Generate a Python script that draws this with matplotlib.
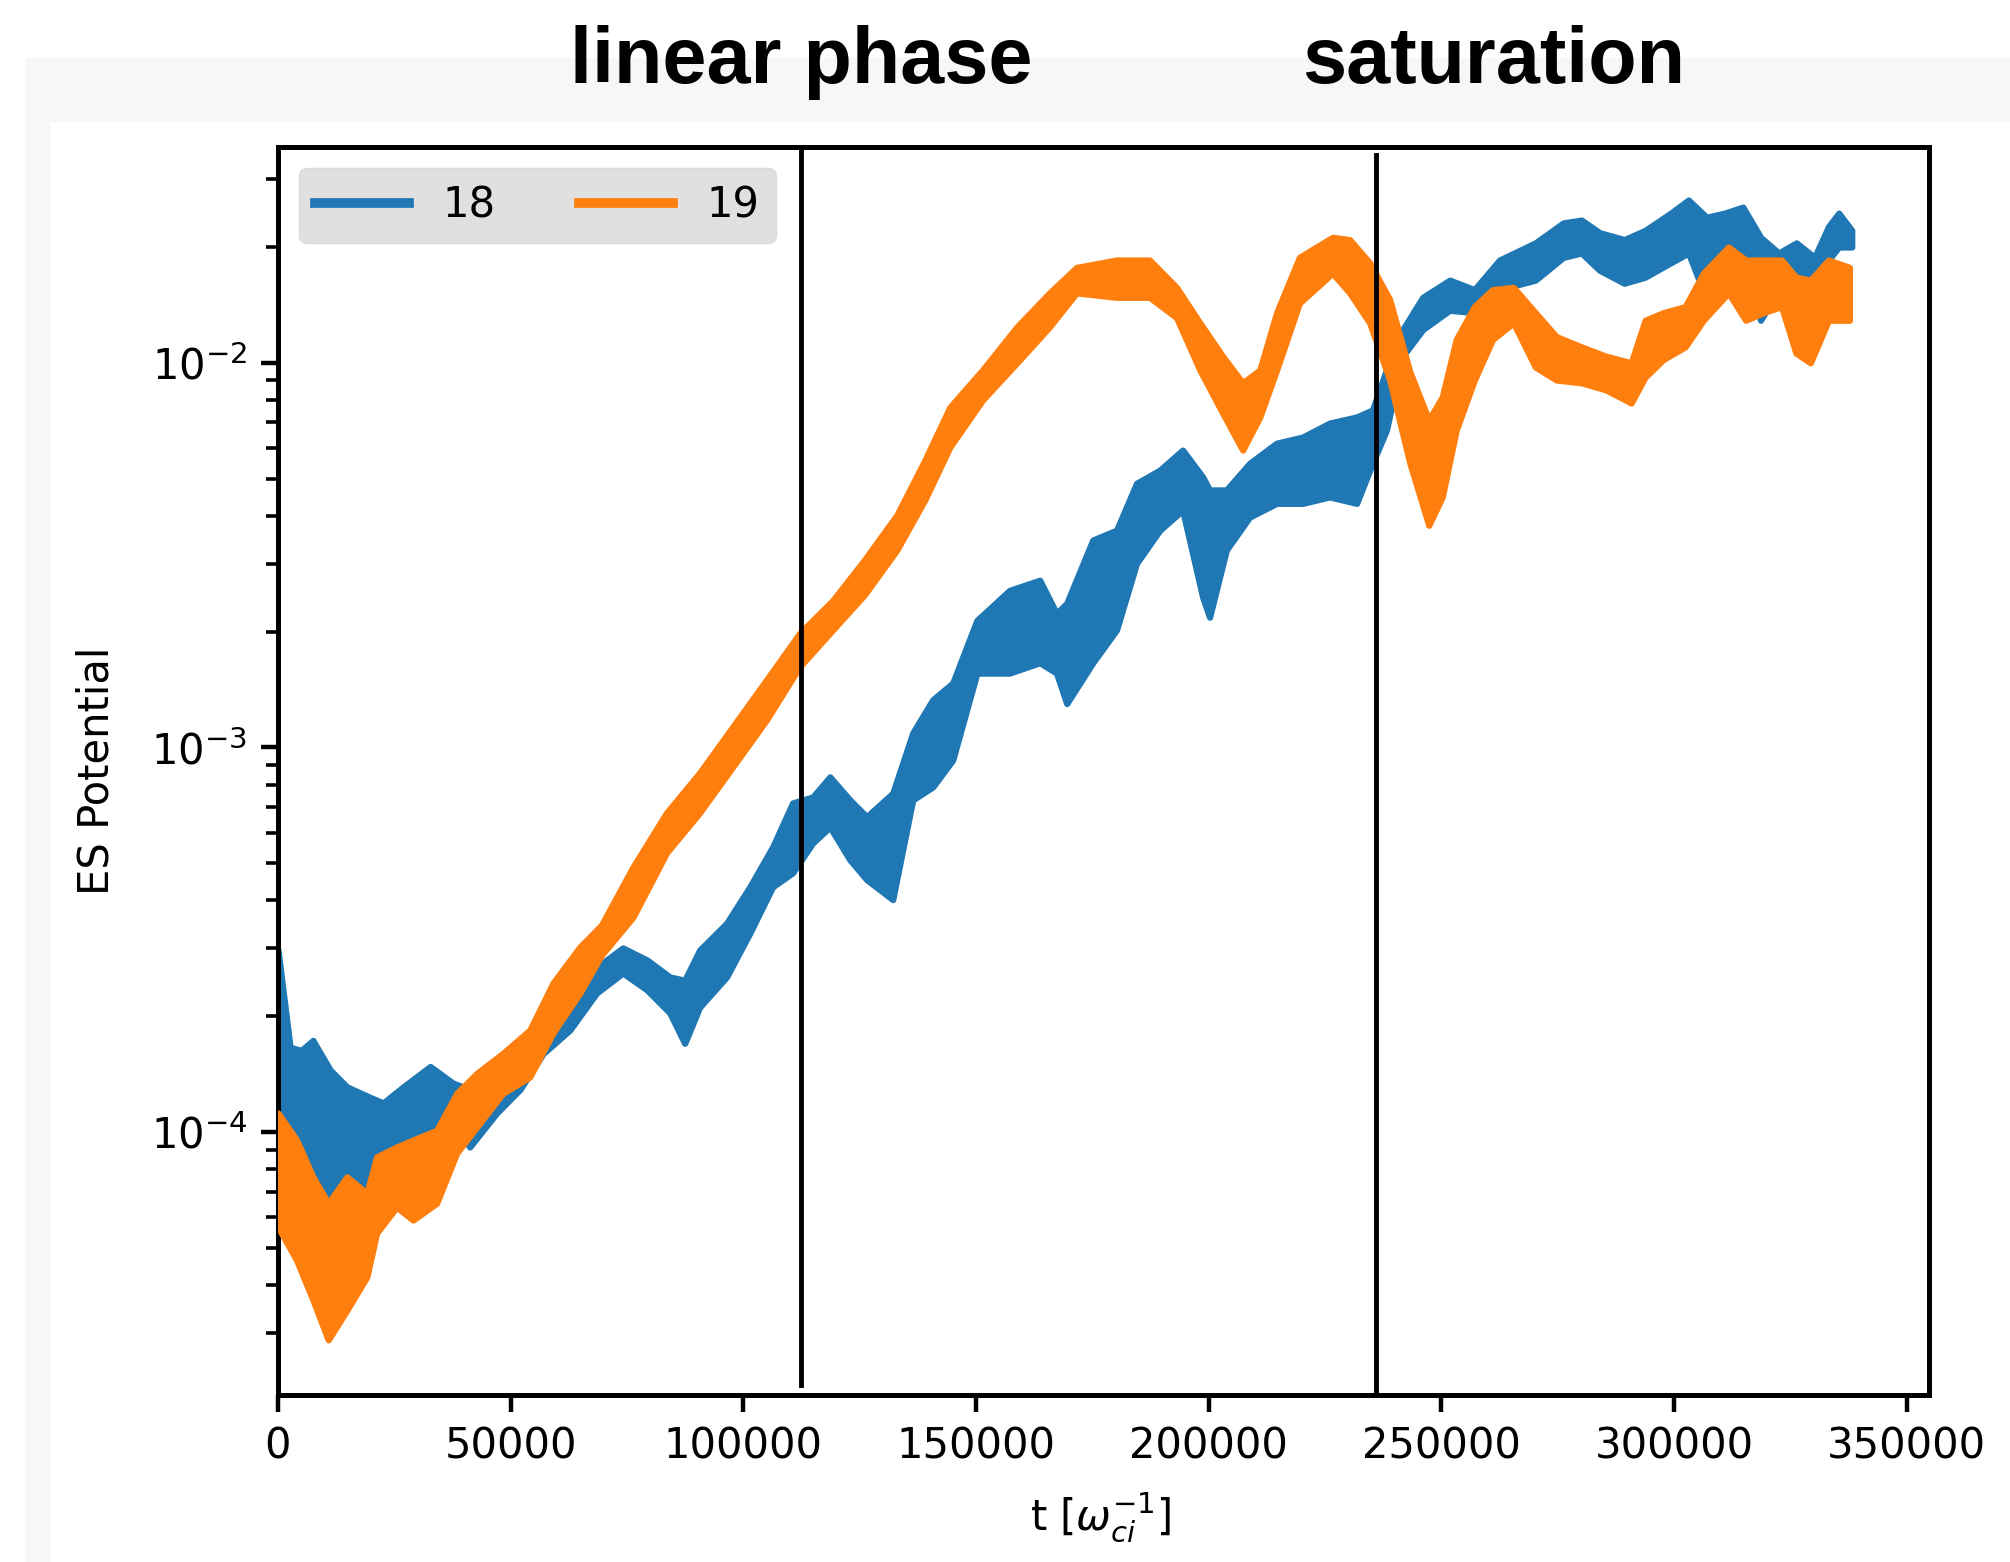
import matplotlib
matplotlib.use("Agg")
import matplotlib.pyplot as plt
from matplotlib.lines import Line2D
from matplotlib.patches import Rectangle

# ES potential envelopes (upper / lower edge of the noisy band)
t18 = [0, 2600, 5000, 7500, 11200, 14800, 19800, 22600, 26900, 32700,
       37600, 41200, 47000, 52000, 57000, 62700, 68500, 74100, 79300, 84200,
       87400, 90600, 96400, 101400, 106300, 110600, 114900, 118600, 122900, 126500,
       132100, 136400, 140700, 145000, 150200, 157200, 163700, 167300, 169500, 175100,
       180200, 184500, 189500, 194400, 198700, 200200, 203800, 208800, 214600, 220200,
       226000, 231800, 235200, 238200, 241700, 246000, 251800, 257100, 262500, 270200,
       276200, 280100, 284000, 289300, 293800, 299300, 303100, 307000, 310900, 314800,
       318600, 322500, 326300, 330200, 333200, 335400, 338200]
hi18 = [2.97e-4, 1.66e-4, 1.63e-4, 1.73e-4, 1.45e-4, 1.31e-4, 1.23e-4, 1.19e-4, 1.31e-4, 1.48e-4,
        1.34e-4, 1.29e-4, 1.54e-4, 1.70e-4, 1.84e-4, 2.20e-4, 2.68e-4, 3.01e-4, 2.80e-4, 2.53e-4,
        2.48e-4, 2.97e-4, 3.49e-4, 4.34e-4, 5.51e-4, 7.17e-4, 7.43e-4, 8.38e-4, 7.30e-4, 6.60e-4,
        7.60e-4, 1.09e-3, 1.33e-3, 1.47e-3, 2.14e-3, 2.56e-3, 2.72e-3, 2.23e-3, 2.37e-3, 3.46e-3,
        3.67e-3, 4.86e-3, 5.26e-3, 5.93e-3, 5.05e-3, 4.67e-3, 4.67e-3, 5.48e-3, 6.18e-3, 6.41e-3,
        6.97e-3, 7.23e-3, 7.54e-3, 9.58e-3, 1.22e-2, 1.48e-2, 1.64e-2, 1.55e-2, 1.85e-2, 2.05e-2,
        2.31e-2, 2.35e-2, 2.18e-2, 2.09e-2, 2.21e-2, 2.45e-2, 2.65e-2, 2.39e-2, 2.45e-2, 2.54e-2,
        2.12e-2, 1.93e-2, 2.05e-2, 1.88e-2, 2.26e-2, 2.45e-2, 2.21e-2]
lo18 = [9.93e-5, 8.11e-5, 7.50e-5, 7.06e-5, 6.65e-5, 7.37e-5, 6.77e-5, 8.61e-5, 9.53e-5, 1.03e-4,
        1.07e-4, 9.14e-5, 1.12e-4, 1.29e-4, 1.60e-4, 1.84e-4, 2.30e-4, 2.59e-4, 2.34e-4, 2.04e-4,
        1.70e-4, 2.11e-4, 2.53e-4, 3.29e-4, 4.34e-4, 4.72e-4, 5.64e-4, 6.21e-4, 5.10e-4, 4.53e-4,
        4.02e-4, 7.30e-4, 7.89e-4, 9.27e-4, 1.56e-3, 1.56e-3, 1.66e-3, 1.56e-3, 1.30e-3, 1.66e-3,
        2.02e-3, 3.01e-3, 3.67e-3, 4.14e-3, 2.46e-3, 2.18e-3, 3.26e-3, 3.97e-3, 4.31e-3, 4.31e-3,
        4.48e-3, 4.31e-3, 5.48e-3, 6.68e-3, 1.04e-2, 1.22e-2, 1.37e-2, 1.35e-2, 1.55e-2, 1.64e-2,
        1.88e-2, 1.93e-2, 1.74e-2, 1.61e-2, 1.67e-2, 1.82e-2, 1.93e-2, 1.46e-2, 1.55e-2, 1.85e-2,
        1.29e-2, 1.55e-2, 1.64e-2, 1.55e-2, 1.85e-2, 2.00e-2, 2.00e-2]

t19 = [0, 4000, 7500, 10800, 14800, 19100, 21200, 25500, 29000, 34100,
       38400, 42700, 48300, 54100, 59100, 64900, 69500, 76300, 83500, 90600,
       97700, 105000, 112100, 119200, 126000, 133000, 139000, 144400, 151400, 158800,
       165800, 171600, 180200, 187300, 193100, 198100, 203000, 207300, 211000, 214600,
       219500, 226600, 230300, 234600, 238900, 243200, 247300, 250200, 253200, 257100,
       261000, 265500, 270200, 274700, 280100, 285400, 290800, 293800, 297700, 302400,
       306300, 311700, 315400, 319200, 323100, 326200, 329300, 333200, 337700]
hi19 = [1.12e-4, 9.53e-5, 7.64e-5, 6.53e-5, 7.64e-5, 6.93e-5, 8.61e-5, 9.14e-5, 9.53e-5, 1.01e-4,
        1.26e-4, 1.42e-4, 1.60e-4, 1.84e-4, 2.44e-4, 3.03e-4, 3.45e-4, 4.89e-4, 6.76e-4, 8.59e-4,
        1.13e-3, 1.50e-3, 1.98e-3, 2.41e-3, 3.07e-3, 4.02e-3, 5.58e-3, 7.67e-3, 9.58e-3, 1.24e-2,
        1.52e-2, 1.77e-2, 1.85e-2, 1.85e-2, 1.57e-2, 1.27e-2, 1.04e-2, 8.87e-3, 9.58e-3, 1.35e-2,
        1.88e-2, 2.12e-2, 2.09e-2, 1.82e-2, 1.46e-2, 9.50e-3, 7.10e-3, 8.15e-3, 1.15e-2, 1.40e-2,
        1.55e-2, 1.57e-2, 1.35e-2, 1.17e-2, 1.10e-2, 1.04e-2, 1.00e-2, 1.29e-2, 1.35e-2, 1.40e-2,
        1.71e-2, 2.00e-2, 1.85e-2, 1.85e-2, 1.85e-2, 1.67e-2, 1.64e-2, 1.85e-2, 1.77e-2]
lo19 = [5.66e-5, 4.64e-5, 3.66e-5, 2.88e-5, 3.44e-5, 4.20e-5, 5.46e-5, 6.38e-5, 5.90e-5, 6.53e-5,
        8.81e-5, 1.03e-4, 1.26e-4, 1.39e-4, 1.81e-4, 2.30e-4, 2.88e-4, 3.62e-4, 5.32e-4, 6.76e-4,
        8.89e-4, 1.18e-3, 1.62e-3, 2.02e-3, 2.49e-3, 3.26e-3, 4.40e-3, 6.04e-3, 8.00e-3, 1.00e-2,
        1.24e-2, 1.52e-2, 1.48e-2, 1.48e-2, 1.31e-2, 9.58e-3, 7.40e-3, 5.93e-3, 7.23e-3, 9.58e-3,
        1.43e-2, 1.71e-2, 1.52e-2, 1.27e-2, 9.02e-3, 5.50e-3, 3.78e-3, 4.48e-3, 6.68e-3, 9.02e-3,
        1.15e-2, 1.27e-2, 9.75e-3, 9.02e-3, 8.87e-3, 8.50e-3, 7.86e-3, 9.18e-3, 1.02e-2, 1.10e-2,
        1.29e-2, 1.52e-2, 1.29e-2, 1.35e-2, 1.40e-2, 1.06e-2, 1.00e-2, 1.29e-2, 1.29e-2]

t_linear = 112500      # marker "linear phase"
t_saturation = 236000  # marker "saturation"

c18 = '#1f77b4'
c19 = '#ff7f0e'

plt.rcParams['font.family'] = 'DejaVu Sans'

fig = plt.figure(figsize=(20.1, 15.62), dpi=100)
fig.patch.set_facecolor('white')

# screenshot frame: light grey band with white page inside
fig.add_artist(Rectangle((0.0129, 0), 1, 0.9629, transform=fig.transFigure,
                         facecolor='#f7f7f7', edgecolor='none', zorder=-10))
fig.add_artist(Rectangle((0.0254, 0), 1, 0.9219, transform=fig.transFigure,
                         facecolor='white', edgecolor='none', zorder=-9))

ax = fig.add_axes([0.1383, 0.1069, 0.8214, 0.7990])

ax.fill_between(t18, lo18, hi18, color=c18, lw=4.5, zorder=2)
ax.fill_between(t19, lo19, hi19, color=c19, lw=4.5, zorder=3)

ax.axvline(t_linear, ymin=0.008, ymax=1, color='black', lw=3.5, zorder=5)
ax.axvline(t_saturation, ymin=0, ymax=0.9936, color='black', lw=3.5, zorder=5)

ax.set_yscale('log')
ax.set_xlim(0, 354800)
ax.set_ylim(2.07e-5, 0.0364)
ax.set_xticks([0, 50000, 100000, 150000, 200000, 250000, 300000, 350000])

for s in ax.spines.values():
    s.set_linewidth(3.6)
ax.tick_params(which='major', length=12, width=3.2, labelsize=30, pad=10)
ax.tick_params(which='minor', length=8.5, width=2.6)

ax.set_ylabel('ES Potential', fontsize=30)
ax.yaxis.set_label_coords(-0.097, 0.5)
ax.set_xlabel(r't [$\omega_{ci}^{-1}$]', fontsize=30)
ax.xaxis.set_label_coords(0.498, -0.077)

handles = [Line2D([], [], color=c18, lw=7, label='18'),
           Line2D([], [], color=c19, lw=7, label='19')]
leg = ax.legend(handles=handles, loc='upper left', ncol=2, fontsize=30,
                handlelength=2.25, fancybox=True, framealpha=1,
                facecolor='#e0e0e0', edgecolor='#dadada')

fig.text(0.3985, 1 - 83 / 1562, 'linear phase', ha='center', va='baseline',
         fontsize=57, fontweight='bold', family='Liberation Sans')
fig.text(0.743, 1 - 83 / 1562, 'saturation', ha='center', va='baseline',
         fontsize=57, fontweight='bold', family='Liberation Sans')

fig.savefig('out.png', dpi=100)
